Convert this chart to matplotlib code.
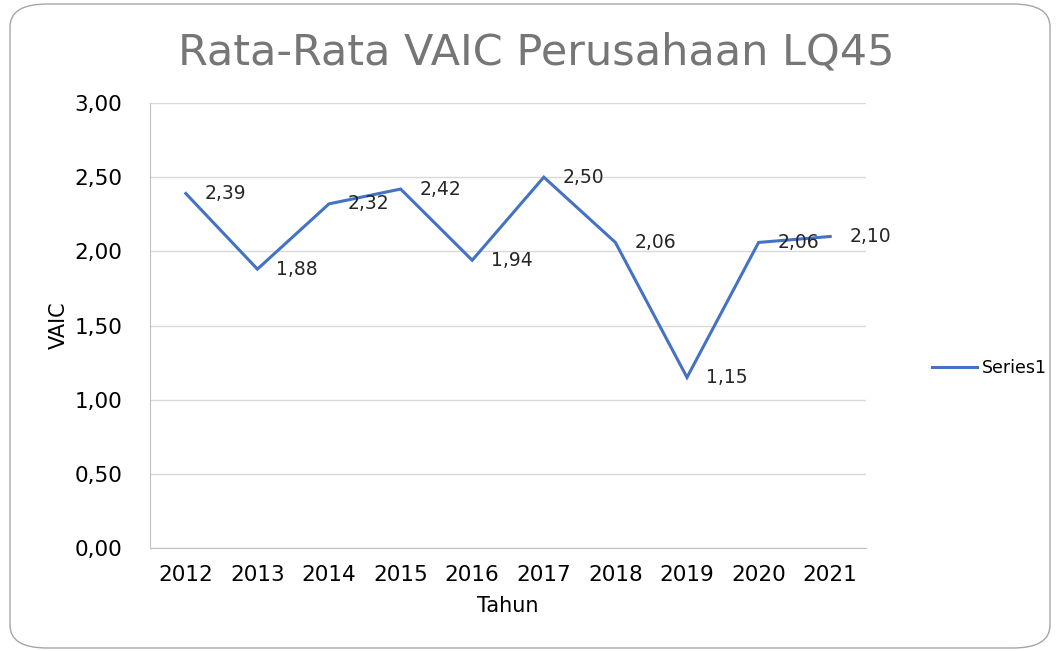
import matplotlib
matplotlib.use("Agg")
import matplotlib.pyplot as plt
from matplotlib.patches import FancyBboxPatch

# data
years = ["2012", "2013", "2014", "2015", "2016", "2017", "2018", "2019", "2020", "2021"]
vaic = [2.39, 1.88, 2.32, 2.42, 1.94, 2.50, 2.06, 1.15, 2.06, 2.10]
yticks = [0.0, 0.5, 1.0, 1.5, 2.0, 2.5, 3.0]

def fmt(v):
    return f"{v:.2f}".replace(".", ",")

plt.rcParams['font.family'] = ['DejaVu Sans']

fig = plt.figure(figsize=(10.59, 6.51), dpi=100)
fig.patch.set_facecolor("white")

# rounded chart border
border = FancyBboxPatch((10 / 1059, 3 / 651), 1040 / 1059, 644 / 651,
                        boxstyle="round,pad=0,rounding_size=0.035",
                        transform=fig.transFigure, fill=False,
                        edgecolor="#a6a6a6", linewidth=1.0)
fig.patches.append(border)

ax = fig.add_axes([150 / 1059, 1 - 548 / 651, 716 / 1059, 445 / 651])
x = list(range(len(years)))
line, = ax.plot(x, vaic, color="#4472C4", linewidth=2.2, label="Series1",
                solid_joinstyle="miter")

for xi, v in zip(x, vaic):
    ax.annotate(fmt(v), (xi, v), xytext=(19, 0), textcoords="offset pixels",
                ha="left", va="center", fontsize=13.5, color="#262626")

ax.set_xlim(-0.5, len(years) - 0.5)
ax.set_ylim(0, 3.0)
ax.set_yticks(yticks)
ax.set_yticklabels([fmt(t) for t in yticks], fontsize=15.5, color="#000000")
ax.set_xticks(x)
ax.set_xticklabels(years, fontsize=15.5, color="#000000")
ax.tick_params(length=0, pad=12)
ax.tick_params(axis="y", pad=20)
ax.grid(axis="y", color="#d9d9d9", linewidth=1.0)
ax.set_axisbelow(True)
for s in ["top", "right"]:
    ax.spines[s].set_visible(False)
ax.spines["left"].set_color("#bfbfbf")
ax.spines["bottom"].set_color("#bfbfbf")

ax.set_xlabel("Tahun", fontsize=15, labelpad=8)
ax.set_ylabel("VAIC", fontsize=15, labelpad=4)

fig.text(536 / 1059, 1 - 52 / 651, "Rata-Rata VAIC Perusahaan LQ45",
         ha="center", va="center", fontsize=31, color="#767676")

fig.legend(handles=[line], loc="center left", bbox_to_anchor=(932 / 1059, 1 - 368 / 651),
           frameon=False, fontsize=12.5, handlelength=2.6, handletextpad=0.3,
           borderpad=0, borderaxespad=0)

fig.savefig("out.png", dpi=100)
